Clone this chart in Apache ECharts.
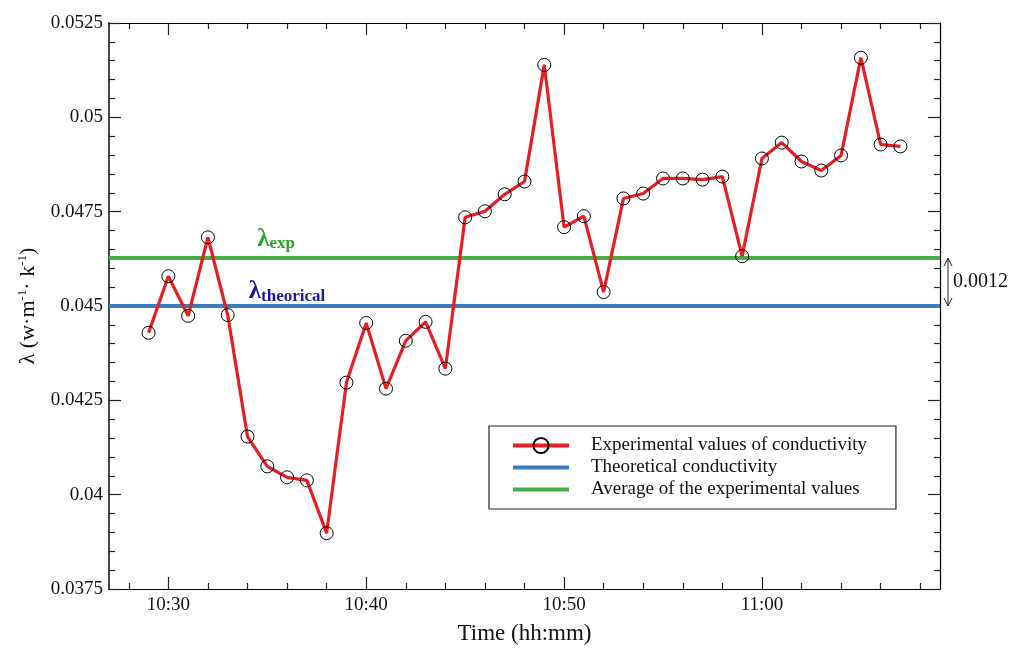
<!DOCTYPE html>
<html>
<head>
<meta charset="utf-8">
<script src="https://cdn.jsdelivr.net/npm/echarts@6/dist/echarts.min.js"></script>
<style>
  html, body { margin: 0; padding: 0; background: #fff; }
  #chart { width: 1017px; height: 650px; }
</style>
</head>
<body>
<div id="chart"></div>
<script>
  // 数据
  var times = ['10:29', '10:30', '10:31', '10:32', '10:33', '10:34', '10:35', '10:36', '10:37', '10:38',
    '10:39', '10:40', '10:41', '10:42', '10:43', '10:44', '10:45', '10:46', '10:47', '10:48',
    '10:49', '10:50', '10:51', '10:52', '10:53', '10:54', '10:55', '10:56', '10:57', '10:58',
    '10:59', '11:00', '11:01', '11:02', '11:03', '11:04', '11:05', '11:06', '11:07'];
  var conductivity = [0.04429, 0.04579, 0.04474, 0.04682, 0.04476, 0.04154, 0.04075, 0.04046, 0.04038, 0.03898,
    0.04297, 0.04455, 0.04281, 0.04408, 0.04458, 0.04334, 0.04735, 0.04751, 0.04796, 0.04830,
    0.05139, 0.04709, 0.04738, 0.04537, 0.04785, 0.04798, 0.04838, 0.04838, 0.04835, 0.04843,
    0.04632, 0.04891, 0.04933, 0.04883, 0.04859, 0.04899, 0.05158, 0.04928, 0.04923];
  var theoretical = 0.045;
  var average = 0.04627;
  var tickLabels = ['10:30', '10:40', '10:50', '11:00'];
  var minorTickLabels = ['10:28', '10:32', '10:34', '10:36', '10:38', '10:42', '10:44', '10:46', '10:48',
    '10:52', '10:54', '10:56', '10:58', '11:02', '11:04', '11:06', '11:08'];
  var xRange = ['10:27', '11:09'];

  // 分钟数 (从 10:00 起)
  function toMin(t) {
    var p = t.split(':');
    return (+p[0] - 10) * 60 + (+p[1]);
  }
  function toLabel(m) {
    var h = 10 + Math.floor(m / 60), mm = m % 60;
    return h + ':' + (mm < 10 ? '0' : '') + mm;
  }

  var xMin = toMin(xRange[0]), xMax = toMin(xRange[1]);
  var majors = tickLabels.map(toMin);
  var minors = minorTickLabels.map(toMin);
  var expData = times.map(function (t, i) { return [toMin(t), conductivity[i]]; });

  var font = 'Liberation Serif';

  var myChart = echarts.init(document.getElementById('chart'));

  function xAx(pos, ticks, len, withLine, withLabel) {
    return {
      type: 'value', position: pos, min: xMin, max: xMax,
      splitLine: { show: false },
      axisLine: { show: withLine, onZero: false, lineStyle: { color: '#000', width: 1.2 } },
      axisTick: { show: true, inside: true, length: len, customValues: ticks, lineStyle: { color: '#222', width: 1.2 } },
      axisLabel: withLabel ? {
        show: true, customValues: ticks, formatter: function (v) { return toLabel(v); },
        fontFamily: font, fontSize: 19, color: '#111', margin: 7
      } : { show: false },
      name: withLabel ? 'Time (hh:mm)' : '',
      nameLocation: 'middle', nameGap: 33,
      nameTextStyle: { fontFamily: font, fontSize: 23, color: '#111' }
    };
  }

  function yAx(pos, withLabel) {
    return {
      type: 'value', position: pos, min: 0.0375, max: 0.0525, interval: 0.0025,
      splitLine: { show: false },
      axisLine: { show: true, lineStyle: { color: pos === 'left' ? '#444' : '#000', width: pos === 'left' ? 2 : 1.2 } },
      axisTick: { show: true, inside: true, length: 12, lineStyle: { color: '#222', width: 1.2 } },
      minorTick: { show: true, splitNumber: 5, length: 6, lineStyle: { color: '#222', width: 1.2 } },
      axisLabel: withLabel ? {
        show: true, fontFamily: font, fontSize: 19, color: '#111', margin: 6,
        formatter: function (v) { return String(parseFloat(v.toFixed(4))); }
      } : { show: false },
      name: withLabel ? 'λ (w·m{s|-1}· k{s|-1})' : '',
      nameLocation: 'middle', nameGap: 69, nameRotate: 90,
      nameTextStyle: {
        fontFamily: font, fontSize: 22, color: '#111', lineHeight: 24,
        rich: { s: { fontFamily: font, fontSize: 13, verticalAlign: 'top', lineHeight: 24, color: '#111' } }
      }
    };
  }

  var option = {
    animation: false,
    grid: { left: 109, right: 77, top: 23, bottom: 60 },
    legend: {
      orient: 'vertical', left: 489, top: 426,
      padding: [10, 29, 10, 22],
      itemGap: 3, itemWidth: 56, itemHeight: 19,
      borderColor: '#222', borderWidth: 1.2,
      textStyle: { fontFamily: font, fontSize: 19, color: '#111', padding: [0, 0, 0, 17] },
      data: [
        { name: 'Experimental values of conductivity', lineStyle: { width: 4 } },
        { name: 'Theoretical conductivity', icon: 'path://M0,0H56V4H0Z' },
        { name: 'Average of the experimental values', icon: 'path://M0,0H56V4H0Z' }
      ]
    },
    xAxis: [
      xAx('bottom', majors, 12, true, true),
      xAx('bottom', minors, 6, false, false),
      xAx('top', majors, 12, true, false),
      xAx('top', minors, 6, false, false)
    ],
    yAxis: [yAx('left', true), yAx('right', false)],
    series: [
      {
        name: 'Average of the experimental values', type: 'line', symbol: 'none',
        lineStyle: { color: '#4aae48', width: 4 }, itemStyle: { color: '#4aae48' },
        data: [[xMin, average], [xMax, average]],
        markPoint: {
          symbol: 'circle', symbolSize: 0, silent: true,
          data: [{ coord: [35.45, average] }],
          label: {
            show: true, offset: [0, -19],
            formatter: '{a|λ}{b|exp}',
            rich: {
              a: { fontFamily: font, fontWeight: 'bold', fontSize: 25, color: '#2aa52a' },
              b: { fontFamily: font, fontWeight: 'bold', fontSize: 17, color: '#2aa52a', padding: [9, 0, 0, 0] }
            }
          }
        }
      },
      {
        name: 'Theoretical conductivity', type: 'line', symbol: 'none',
        lineStyle: { color: '#3a7dbd', width: 4 }, itemStyle: { color: '#3a7dbd' },
        data: [[xMin, theoretical], [xMax, theoretical]],
        markPoint: {
          symbol: 'circle', symbolSize: 0, silent: true,
          data: [{ coord: [36, theoretical] }],
          label: {
            show: true, offset: [0, -14],
            formatter: '{a|λ}{b|theorical}',
            rich: {
              a: { fontFamily: font, fontWeight: 'bold', fontSize: 25, color: '#1a1a9a' },
              b: { fontFamily: font, fontWeight: 'bold', fontSize: 17, color: '#1a1a9a', padding: [9, 0, 0, 0] }
            }
          }
        }
      },
      {
        name: 'Experimental values of conductivity', type: 'line',
        symbol: 'circle', symbolSize: 13,
        lineStyle: { color: '#e41e24', width: 3.2 },
        itemStyle: { color: 'rgba(0,0,0,0)', borderColor: '#000', borderWidth: 1 },
        data: expData, z: 5
      }
    ]
  };
  myChart.setOption(option);

  // 0.0012 标注
  var yTop = myChart.convertToPixel({ yAxisIndex: 0 }, average);
  var yBot = myChart.convertToPixel({ yAxisIndex: 0 }, theoretical);
  var gap = Math.floor((average - theoretical) * 1e4) / 1e4;
  var ax = 948;
  myChart.setOption({
    graphic: [
      { type: 'line', shape: { x1: ax, y1: yTop, x2: ax, y2: yBot }, style: { stroke: '#222', lineWidth: 1 } },
      { type: 'polyline', shape: { points: [[ax - 4, yTop + 8], [ax, yTop], [ax + 4, yTop + 8]] }, style: { stroke: '#222', lineWidth: 1, fill: null } },
      { type: 'polyline', shape: { points: [[ax - 4, yBot - 8], [ax, yBot], [ax + 4, yBot - 8]] }, style: { stroke: '#222', lineWidth: 1, fill: null } },
      { type: 'text', x: ax + 5, y: (yTop + yBot) / 2, style: { text: gap.toFixed(4), fontFamily: font, fontSize: 20, fill: '#111', verticalAlign: 'middle' } }
    ]
  });
  window.onresize = () => myChart.resize()
</script>
</body>
</html>
